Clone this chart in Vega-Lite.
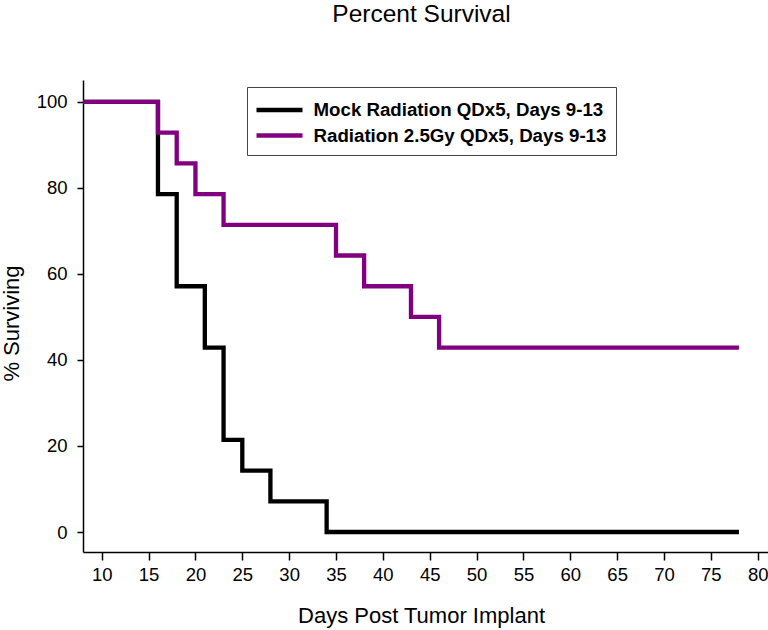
{
  "$schema": "https://vega.github.io/schema/vega-lite/v6.json",
  "width": 685,
  "height": 472,
  "autosize": {"type": "none"},
  "padding": {"left": 83, "top": 80, "right": 0, "bottom": 78},
  "background": "white",
  "title": {
    "text": "Percent Survival",
    "font": "Liberation Sans",
    "fontSize": 24.5,
    "fontWeight": "normal",
    "color": "black",
    "anchor": "middle",
    "frame": "group",
    "dx": -4,
    "offset": 53
  },
  "config": {
    "view": {"stroke": null},
    "font": "Liberation Sans"
  },
  "data": {
    "values": [
      {"group": "Mock Radiation QDx5, Days 9-13", "day": 8, "pct": 100},
      {"group": "Mock Radiation QDx5, Days 9-13", "day": 16, "pct": 78.57},
      {"group": "Mock Radiation QDx5, Days 9-13", "day": 18, "pct": 57.14},
      {"group": "Mock Radiation QDx5, Days 9-13", "day": 21, "pct": 42.86},
      {"group": "Mock Radiation QDx5, Days 9-13", "day": 23, "pct": 21.43},
      {"group": "Mock Radiation QDx5, Days 9-13", "day": 25, "pct": 14.29},
      {"group": "Mock Radiation QDx5, Days 9-13", "day": 28, "pct": 7.14},
      {"group": "Mock Radiation QDx5, Days 9-13", "day": 34, "pct": 0},
      {"group": "Mock Radiation QDx5, Days 9-13", "day": 78, "pct": 0},
      {"group": "Radiation 2.5Gy QDx5, Days 9-13", "day": 8, "pct": 100},
      {"group": "Radiation 2.5Gy QDx5, Days 9-13", "day": 16, "pct": 92.86},
      {"group": "Radiation 2.5Gy QDx5, Days 9-13", "day": 18, "pct": 85.71},
      {"group": "Radiation 2.5Gy QDx5, Days 9-13", "day": 20, "pct": 78.57},
      {"group": "Radiation 2.5Gy QDx5, Days 9-13", "day": 23, "pct": 71.43},
      {"group": "Radiation 2.5Gy QDx5, Days 9-13", "day": 35, "pct": 64.29},
      {"group": "Radiation 2.5Gy QDx5, Days 9-13", "day": 38, "pct": 57.14},
      {"group": "Radiation 2.5Gy QDx5, Days 9-13", "day": 43, "pct": 50},
      {"group": "Radiation 2.5Gy QDx5, Days 9-13", "day": 46, "pct": 42.86},
      {"group": "Radiation 2.5Gy QDx5, Days 9-13", "day": 78, "pct": 42.86}
    ]
  },
  "mark": {"type": "line", "interpolate": "step-after", "strokeWidth": 4.3, "strokeCap": "butt", "strokeJoin": "miter"},
  "encoding": {
    "x": {
      "field": "day",
      "type": "quantitative",
      "scale": {"domain": [8, 81.1], "nice": false, "zero": false},
      "axis": {
        "title": "Days Post Tumor Implant",
        "values": [10, 15, 20, 25, 30, 35, 40, 45, 50, 55, 60, 65, 70, 75, 80],
        "grid": false,
        "domainColor": "black",
        "domainWidth": 1.5,
        "tickColor": "black",
        "tickWidth": 1.5,
        "tickSize": 8,
        "labelFont": "Liberation Sans",
        "labelFontSize": 18.5,
        "labelColor": "black",
        "labelPadding": 5,
        "titleFont": "Liberation Sans",
        "titleFontSize": 22,
        "titleFontWeight": "normal",
        "titleColor": "black",
        "titlePadding": 22,
        "titleX": 338
      }
    },
    "y": {
      "field": "pct",
      "type": "quantitative",
      "scale": {"domain": [-4.65, 105.1], "nice": false, "zero": false},
      "axis": {
        "title": "% Surviving",
        "values": [0, 20, 40, 60, 80, 100],
        "grid": false,
        "domainColor": "black",
        "domainWidth": 1.5,
        "tickColor": "black",
        "tickWidth": 1.5,
        "tickSize": 6,
        "labelFont": "Liberation Sans",
        "labelFontSize": 18.5,
        "labelColor": "black",
        "labelPadding": 10,
        "titleFont": "Liberation Sans",
        "titleFontSize": 22,
        "titleFontWeight": "normal",
        "titleColor": "black",
        "titlePadding": 13,
        "titleY": 243
      }
    },
    "color": {
      "field": "group",
      "type": "nominal",
      "scale": {
        "domain": ["Mock Radiation QDx5, Days 9-13", "Radiation 2.5Gy QDx5, Days 9-13"],
        "range": ["#000000", "#800080"]
      },
      "legend": {
        "title": null,
        "orient": "none",
        "legendX": 164,
        "legendY": 7,
        "strokeColor": "#444444",
        "padding": 9,
        "symbolType": "M-2,0H2",
        "symbolSize": 529,
        "symbolStrokeWidth": 4.3,
        "symbolOffset": 9.5,
        "labelFont": "Liberation Sans",
        "labelFontSize": 18.7,
        "labelFontWeight": "bold",
        "labelColor": "black",
        "labelOffset": 20,
        "rowPadding": 1.5,
        "labelLimit": 400
      }
    }
  }
}
